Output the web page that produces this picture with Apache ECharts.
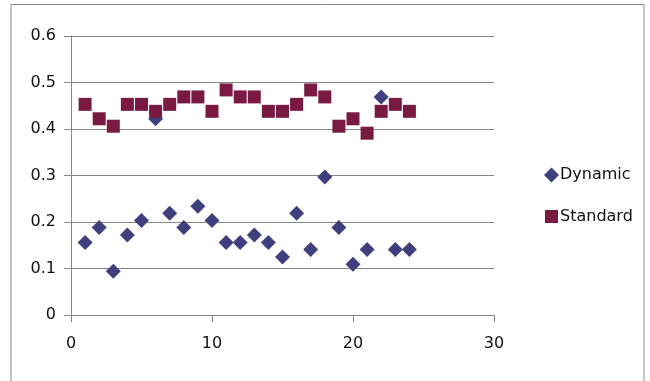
<!DOCTYPE html>
<html>
<head>
<meta charset="utf-8">
<script src="https://cdn.jsdelivr.net/npm/echarts@6/dist/echarts.min.js"></script>
<style>
  html, body { margin: 0; padding: 0; background: #fff; }
  #chart { width: 650px; height: 381px; }
</style>
</head>
<body>
<div id="chart"></div>
<script>
// Run index (x) and measured values for the two methods
const runs = [1, 2, 3, 4, 5, 6, 7, 8, 9, 10, 11, 12, 13, 14, 15, 16, 17, 18, 19, 20, 21, 22, 23, 24];
const dynamicValues = [0.156, 0.188, 0.094, 0.172, 0.203, 0.422, 0.219, 0.188, 0.234, 0.203, 0.156, 0.156,
                       0.172, 0.156, 0.125, 0.219, 0.141, 0.297, 0.188, 0.109, 0.141, 0.469, 0.141, 0.141];
const standardValues = [0.453, 0.422, 0.406, 0.453, 0.453, 0.438, 0.453, 0.469, 0.469, 0.438, 0.484, 0.469,
                        0.469, 0.438, 0.438, 0.453, 0.484, 0.469, 0.406, 0.422, 0.391, 0.438, 0.453, 0.438];
const seriesNames = ['Dynamic', 'Standard'];

const pairs = (xs, ys) => xs.map((x, i) => [x, ys[i]]);

const font = 'DejaVu Sans';
const gridColor = '#858585';

const chart = echarts.init(document.getElementById('chart'), null, { renderer: 'canvas' });
chart.setOption({
  animation: false,
  backgroundColor: '#fff',
  graphic: [{
    type: 'rect',
    shape: { x: 11, y: 4.5, width: 633, height: 420 },
    style: { fill: 'none', stroke: '#8c8c8c', lineWidth: 1 },
    silent: true
  }],
  grid: { left: 71, right: 156, top: 36, bottom: 66 },
  xAxis: {
    type: 'value',
    min: 0, max: 30, interval: 10,
    axisLine: { show: true, onZero: false, lineStyle: { color: gridColor, width: 1 } },
    axisTick: { show: true, inside: false, length: 7, lineStyle: { color: gridColor } },
    axisLabel: { color: '#111', fontFamily: font, fontSize: 16, margin: 21 },
    splitLine: { show: false }
  },
  yAxis: {
    type: 'value',
    min: 0, max: 0.6, interval: 0.1,
    axisLine: { show: true, onZero: false, lineStyle: { color: gridColor, width: 1 } },
    axisTick: { show: true, inside: false, length: 7, lineStyle: { color: gridColor } },
    axisLabel: { color: '#111', fontFamily: font, fontSize: 16, margin: 15 },
    splitLine: { show: true, lineStyle: { color: gridColor, width: 1 } }
  },
  legend: {
    orient: 'vertical',
    left: 538, top: 162,
    itemWidth: 15, itemHeight: 15, itemGap: 25,
    textStyle: { color: '#111', fontFamily: font, fontSize: 16, padding: [0, 0, 0, -4] },
    data: [
      { name: seriesNames[0], icon: 'diamond' },
      { name: seriesNames[1], icon: 'rect', itemStyle: { borderColor: '#fff', borderWidth: 2 } }
    ]
  },
  series: [
    {
      name: seriesNames[0],
      type: 'scatter',
      symbol: 'diamond',
      symbolSize: 15,
      itemStyle: { color: '#3f3f7d', opacity: 1 },
      data: pairs(runs, dynamicValues)
    },
    {
      name: seriesNames[1],
      type: 'scatter',
      symbol: 'rect',
      symbolSize: 13,
      itemStyle: { color: '#7a1a42', opacity: 1 },
      data: pairs(runs, standardValues)
    }
  ]
});
</script>
</body>
</html>
